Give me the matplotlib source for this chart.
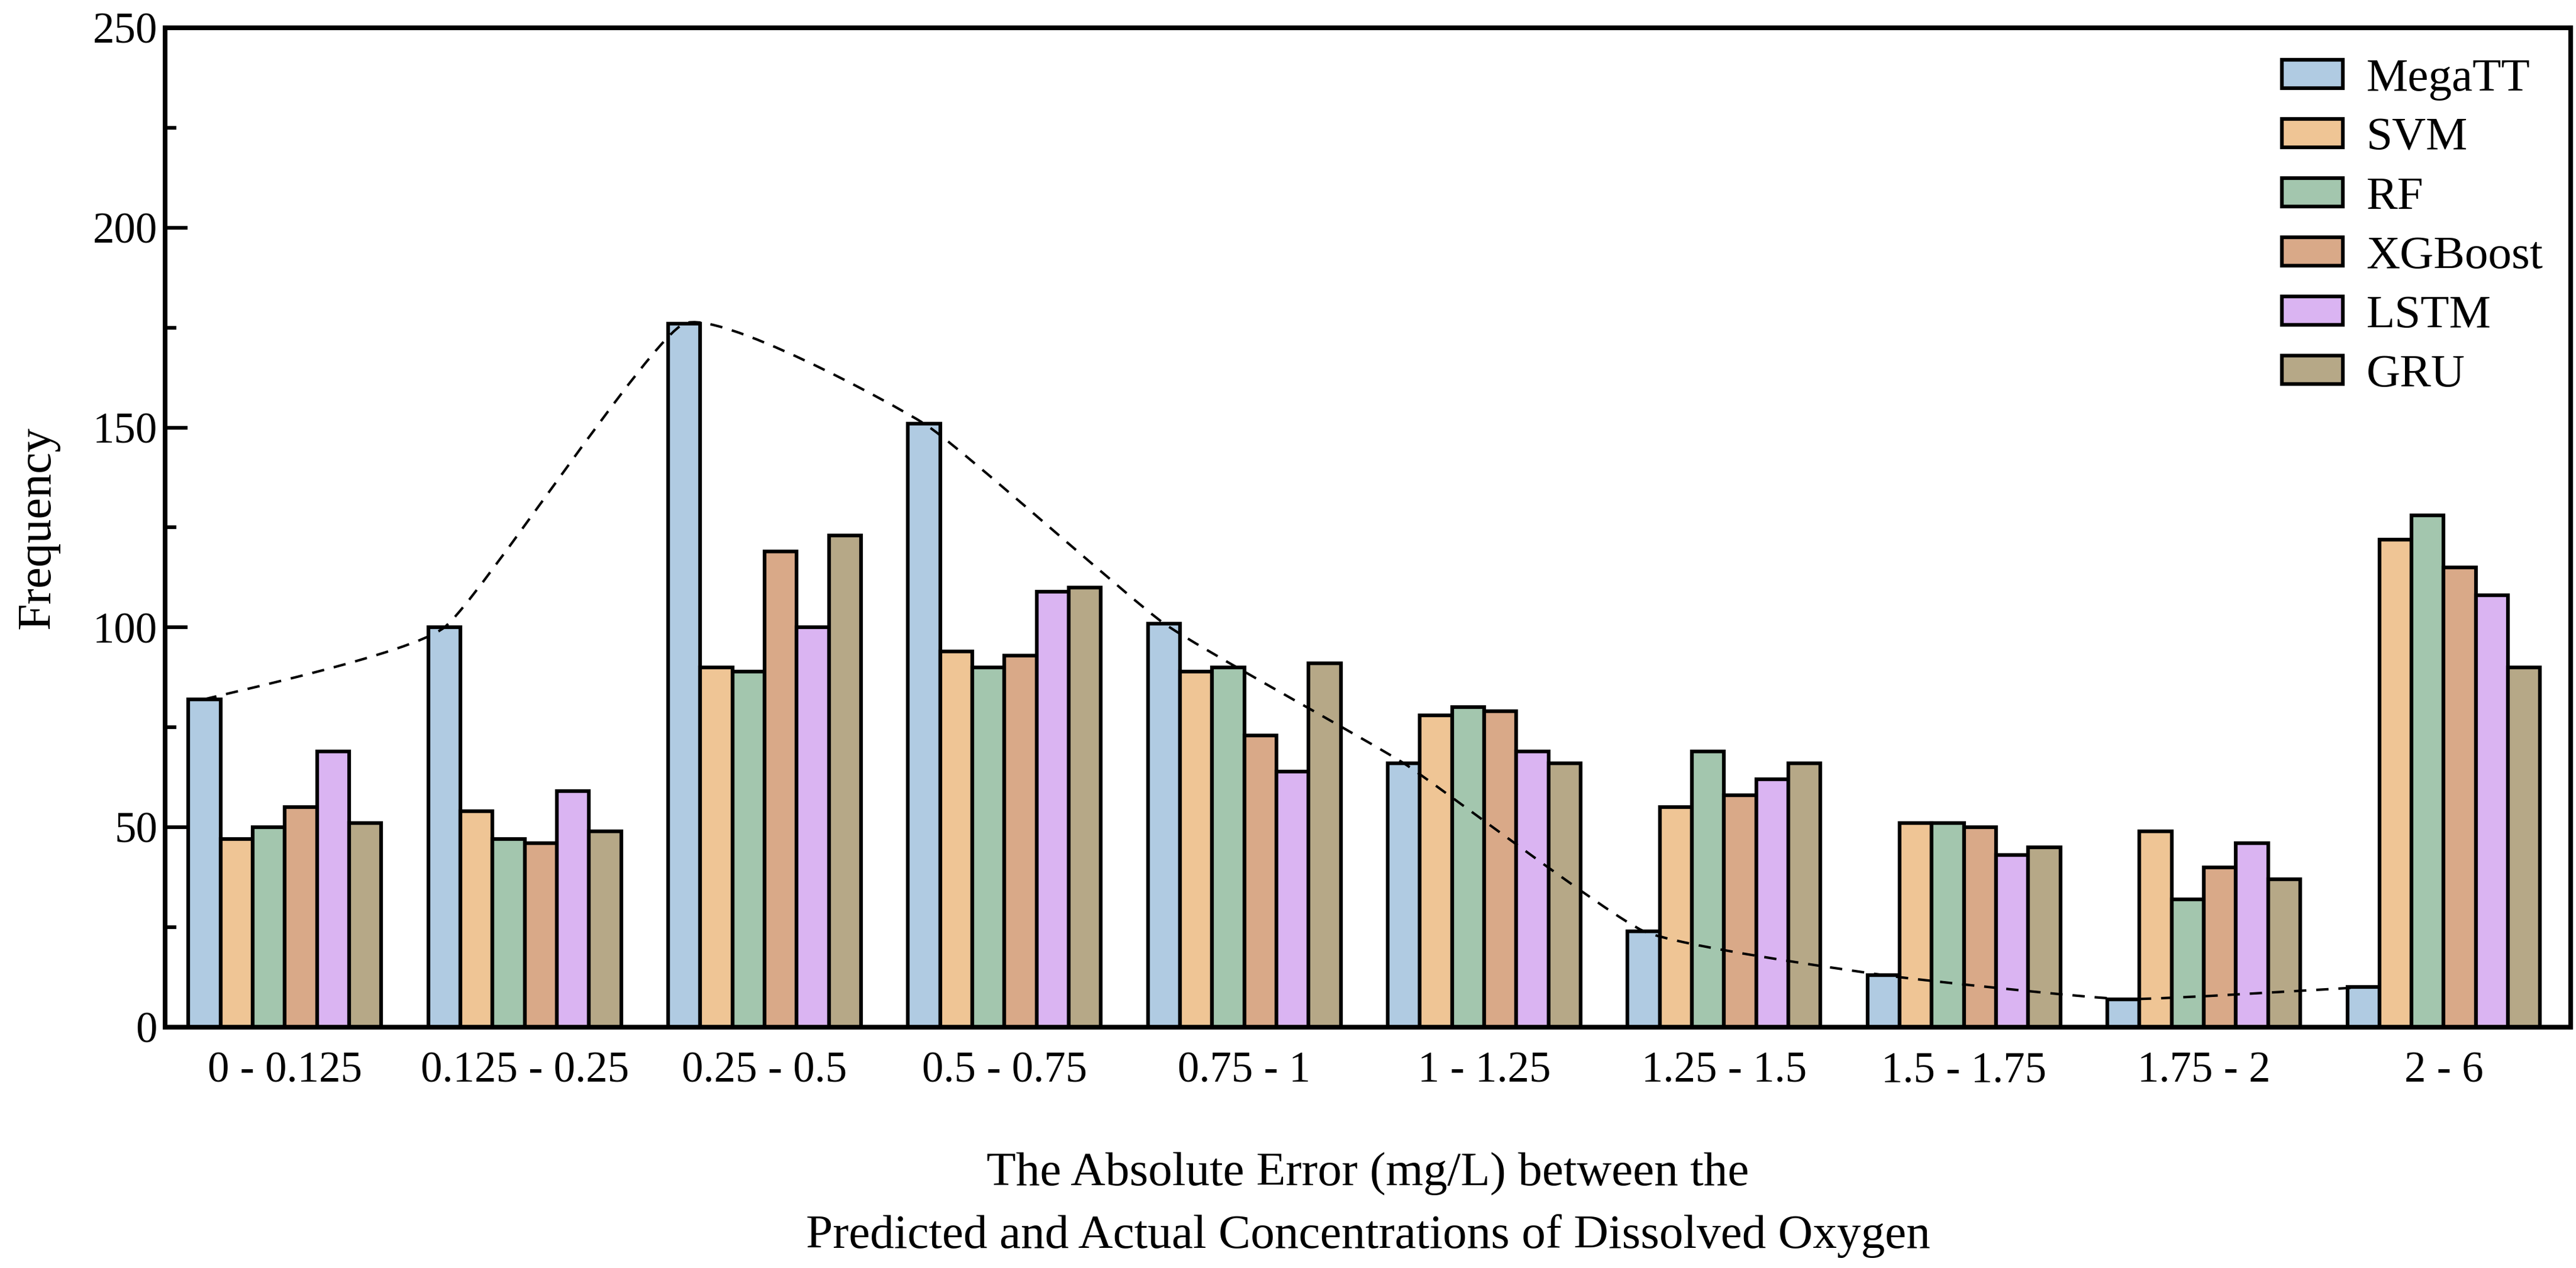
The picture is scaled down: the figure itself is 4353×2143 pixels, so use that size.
import numpy as np
import matplotlib
matplotlib.use("Agg")
import matplotlib.pyplot as plt
from matplotlib.path import Path
from matplotlib.patches import PathPatch

plt.rcParams['font.family'] = ['Liberation Serif', 'DejaVu Serif']

categories = ["0 - 0.125", "0.125 - 0.25", "0.25 - 0.5", "0.5 - 0.75", "0.75 - 1",
              "1 - 1.25", "1.25 - 1.5", "1.5 - 1.75", "1.75 - 2", "2 - 6"]
models = ["MegaTT", "SVM", "RF", "XGBoost", "LSTM", "GRU"]

megatt = [82, 100, 176, 151, 101, 66, 24, 13, 7, 10]
svm = [47, 54, 90, 94, 89, 78, 55, 51, 49, 122]
rf = [50, 47, 89, 90, 90, 80, 69, 51, 32, 128]
xgboost = [55, 46, 119, 93, 73, 79, 58, 50, 40, 115]
lstm = [69, 59, 100, 109, 64, 69, 62, 43, 46, 108]
gru = [51, 49, 123, 110, 91, 66, 66, 45, 37, 90]

colors = ["#B0CBE2", "#EFC595", "#A3C6AE", "#D9A988", "#DAB4F2", "#B6A887"]

series = [megatt, svm, rf, xgboost, lstm, gru]
fs = 17.5      # tick labels
fs_lab = 19.5  # axis labels
fs_leg = 19

fig = plt.figure(figsize=(4353 / 300, 2143 / 300), dpi=300)
ax = fig.add_axes([0.064, 0.19, 0.934, 0.788])

x = np.arange(len(categories))
w = 0.134
for i, (vals, name) in enumerate(zip(series, models)):
    ax.bar(x + (i - 2.5) * w, vals, width=w, color=colors[i], edgecolor="black",
           linewidth=1.5, label=name, zorder=2)

# smooth dashed curve through the MegaTT bar tops (low-tension spline as Bezier)
px = x - 2.5 * w
py = np.array(megatt, dtype=float)
verts = [(px[0], py[0])]
codes = [Path.MOVETO]
n = len(px)
for k in range(n - 1):
    p0 = np.array([px[max(k - 1, 0)], py[max(k - 1, 0)]])
    p1 = np.array([px[k], py[k]])
    p2 = np.array([px[k + 1], py[k + 1]])
    p3 = np.array([px[min(k + 2, n - 1)], py[min(k + 2, n - 1)]])
    c1 = p1 + (p2 - p0) / 14
    c2 = p2 - (p3 - p1) / 14
    verts += [tuple(c1), tuple(c2), tuple(p2)]
    codes += [Path.CURVE4] * 3
ax.add_patch(PathPatch(Path(verts, codes), fill=False, edgecolor="black",
                       linestyle=(0, (5, 4)), linewidth=1.0, zorder=3))

ax.set_xlim(-0.5, 9.53)
ax.set_ylim(0, 250)
ax.set_xticks(x)
ax.set_xticklabels(categories)
ax.set_yticks(np.arange(0, 251, 50))
ax.set_yticks(np.arange(0, 251, 25), minor=True)
ax.tick_params(axis="x", length=0, labelsize=fs, pad=10)
ax.tick_params(axis="y", which="major", direction="in", length=9, width=1.5,
               labelsize=fs, pad=3, right=False)
ax.tick_params(axis="y", which="minor", direction="in", length=4.6, width=1.5, right=False)
for s in ax.spines.values():
    s.set_linewidth(1.9)

ax.set_ylabel("Frequency", fontsize=fs_lab, labelpad=13.5)
ax.set_xlabel("The Absolute Error (mg/L) between the\nPredicted and Actual Concentrations of Dissolved Oxygen",
              fontsize=fs_lab, labelpad=24.5, linespacing=1.55)

ax.legend(loc="upper right", frameon=False, fontsize=fs_leg, handlelength=1.3,
          handleheight=0.56, labelspacing=0.36, handletextpad=0.5,
          bbox_to_anchor=(1.006, 1.012))

fig.savefig("out.png", dpi=300)
